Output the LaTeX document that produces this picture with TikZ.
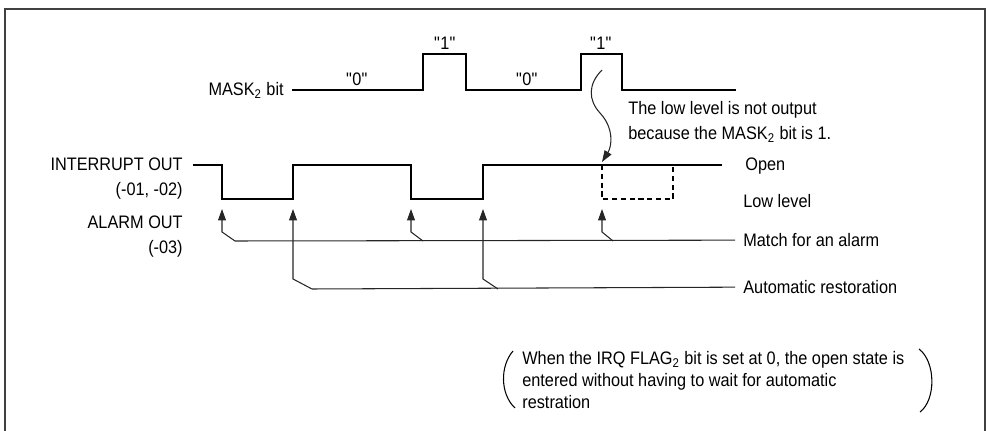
\documentclass[tikz,border=0pt]{standalone}
\usepackage{fontspec}
\setmainfont[FakeStretch=0.9]{Liberation Sans}
\usetikzlibrary{arrows.meta}

\begin{document}
\begin{tikzpicture}[
    x=0.02cm, y=-0.02cm,
    wave/.style={line width=0.8pt},
    lowdash/.style={line width=0.7pt, dash pattern=on 3pt off 2pt},
    guide/.style={line width=0.6pt, black!85},
    trig/.style={guide, -{Triangle[length=6.5pt, width=4.5pt]}},
    txt/.style={inner sep=0pt, font=\fontsize{10.3}{12.5}\selectfont},
    brace/.style={line width=0.6pt}
]
\useasboundingbox (0,0) rectangle (987,431);
\draw[line width=1pt, black!75] (5,431) -- (5,9) -- (985,9) -- (985,431);

% MASK2 bit
\node[txt, anchor=mid east] (masklbl) at (284,91) {MASK\textsubscript{2} bit};
\node[txt] (zeroA) at (357,79) {\textquotedbl0\textquotedbl};
\node[txt] (oneA) at (445,43) {\textquotedbl1\textquotedbl};
\node[txt] (zeroB) at (527,79) {\textquotedbl0\textquotedbl};
\node[txt] (oneB) at (601,43) {\textquotedbl1\textquotedbl};
\draw[wave] (292,90) -- (423,90) |- (466,54) |- (581,90) |- (622,54) |- (736,90);

% output waveform
\node[txt, anchor=mid east] (intlbl) at (183,166) {INTERRUPT OUT};
\node[txt, anchor=mid east] (intno) at (183,191) {(-01, -02)};
\node[txt, anchor=mid east] (alarmlbl) at (183,224) {ALARM OUT};
\node[txt, anchor=mid east] (alarmno) at (183,249) {(-03)};
\draw[wave] (193,165) -| (222,199) -| (293,165) -| (411,199) -| (483,165) -- (722,165);
\draw[lowdash] (602,165) -- (602,199) -| (673,165);

% right hand labels
\node[txt, anchor=mid west] (open) at (745,166) {Open};
\node[txt, anchor=mid west] (low) at (743,203) {Low level};
\node[txt, anchor=mid west] (match) at (743,242) {Match for an alarm};
\node[txt, anchor=mid west] (auto) at (743,289) {Automatic restoration};

% match / restoration events
\coordinate (mline) at (235,241);
\coordinate (aline) at (312,289);
\draw[guide] (mline) -- (match.west -| 735,0);
\draw[guide] (aline) -- (auto.west -| 735,0);
\draw[trig] (mline) -- (222,232) -- (222,209);
\draw[trig] (423,241) -- (411,232) -- (411,209);
\draw[trig] (613,241) -- (602,232) -- (602,209);
\draw[trig] (aline) -- (293,279) -- (293,209);
\draw[trig] (498,289) -- (483,279) -- (483,209);

% masked note
\node[txt, anchor=north west, align=left, font=\fontsize{10.3}{14.2}\selectfont] (masknote) at (628,101)
    {The low level is not output\\because the MASK\textsubscript{2} bit is 1.};
\draw[guide, -{Triangle[length=6.5pt, width=4.5pt]}] (602,70) .. controls (588,84) and (588,100) .. (600,113)
    .. controls (614,128) and (612,146) .. (602,162);

% bottom remark
\node[txt, anchor=north west, align=left] (remark) at (522,351)
    {When the IRQ FLAG\textsubscript{2} bit is set at 0, the open state is\\entered without having to wait for automatic\\restration};
\draw[brace] (513,351) .. controls (500,366) and (500,394) .. (515,408);
\draw[brace] (919,349) .. controls (936,362) and (936,400) .. (920,412);
\end{tikzpicture}
\end{document}
